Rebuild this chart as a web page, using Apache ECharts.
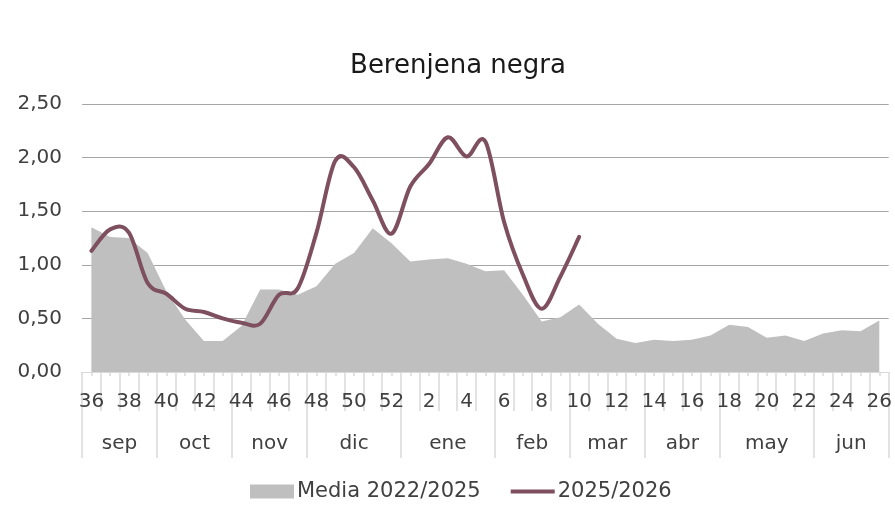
<!DOCTYPE html>
<html>
<head>
<meta charset="utf-8">
<script src="https://cdn.jsdelivr.net/npm/echarts@6/dist/echarts.min.js"></script>
<style>
html,body{margin:0;padding:0;background:#fff;}
#c{width:895px;height:506px;}
</style>
</head>
<body>
<div id="c"></div>
<script>
// Weeks (categories)
const weeks = [36,37,38,39,40,41,42,43,44,45,46,47,48,49,50,51,52,1,2,3,4,5,6,7,8,9,10,11,12,13,14,15,16,17,18,19,20,21,22,23,24,25,26];
// Month names and the week each month starts at
const months = ['sep','oct','nov','dic','ene','feb','mar','abr','may','jun'];
const monthStartWeeks = [36,40,44,48,1,6,10,14,18,23];
// Media 2022/2025 (area)
const media = [1.35,1.26,1.25,1.11,0.75,0.49,0.29,0.29,0.43,0.77,0.77,0.72,0.80,1.01,1.11,1.34,1.20,1.03,1.05,1.06,1.01,0.94,0.95,0.72,0.47,0.51,0.63,0.45,0.31,0.27,0.30,0.29,0.30,0.34,0.44,0.42,0.32,0.34,0.29,0.36,0.39,0.38,0.48];
// 2025/2026 (line)
const season = [1.13,1.33,1.30,0.83,0.73,0.59,0.56,0.50,0.46,0.45,0.72,0.78,1.30,1.97,1.91,1.60,1.29,1.73,1.94,2.19,2.01,2.15,1.40,0.91,0.59,0.89,1.26];
const yTicks = {min:0, max:2.5, step:0.5};

const N = weeks.length;
const monthStartIdx = monthStartWeeks.map(w => weeks.indexOf(w));
const monthEdges = monthStartIdx.concat([N]);
// half-band axis: 2N+1 positions; month label at centre of each month span
const halfCats = new Array(2*N+1).fill('');
months.forEach((m,i)=>{ halfCats[monthEdges[i] + monthEdges[i+1]] = m; });

const lineColor = '#7e4f5e';
const txt = '#404040';
const font = 'DejaVu Sans';

function smoothPath(pts){
  // Catmull-Rom style cubic Bezier through the projected points
  let d = 'M' + pts[0][0] + ',' + pts[0][1];
  for (let i = 0; i < pts.length - 1; i++) {
    const p0 = pts[Math.max(i-1,0)], p1 = pts[i], p2 = pts[i+1], p3 = pts[Math.min(i+2, pts.length-1)];
    const c1x = p1[0] + (p2[0]-p0[0])/6, c1y = p1[1] + (p2[1]-p0[1])/6;
    const c2x = p2[0] - (p3[0]-p1[0])/6, c2y = p2[1] - (p3[1]-p1[1])/6;
    d += ' C' + c1x + ',' + c1y + ' ' + c2x + ',' + c2y + ' ' + p2[0] + ',' + p2[1];
  }
  return d;
}

const chart = echarts.init(document.getElementById('c'), null, {renderer:'canvas'});
chart.setOption({
  animation:false,
  backgroundColor:'#ffffff',
  textStyle:{fontFamily:font},
  title:{text:'Berenjena negra', left:458, textAlign:'center', top:53, padding:0,
    textStyle:{fontFamily:font,fontSize:26,fontWeight:'normal',color:'#1a1a1a'}},
  grid:{left:82,right:5,top:104,bottom:134},
  legend:{top:481,left:250,itemGap:30,itemWidth:44,itemHeight:14,padding:0,
    textStyle:{fontFamily:font,fontSize:21,color:txt,padding:[0,0,0,-2]},
    data:[{name:'Media 2022/2025',icon:'rect',itemStyle:{color:'#bfbfbf'}},
          {name:'2025/2026',icon:'path://M0,0 L46,0 L46,4 L0,4 Z',itemStyle:{color:lineColor}}]},
  xAxis:[
    {type:'category',data:weeks.map(String),boundaryGap:true,position:'bottom',
     axisLine:{show:true,onZero:false,lineStyle:{color:'#d9d9d9',width:1}},
     axisTick:{show:true,interval:0,length:39,lineStyle:{color:'#d9d9d9',width:1.5}},
     axisLabel:{interval:(i)=>i%2===0,margin:20,fontFamily:font,fontSize:20,color:txt},
     splitLine:{show:false}},
    {type:'category',data:weeks.map(String),boundaryGap:true,position:'bottom',
     axisLine:{show:false,onZero:false},
     axisTick:{show:true,interval:(i)=>monthStartIdx.indexOf(i)>=0,length:86,lineStyle:{color:'#d9d9d9',width:1.5}},
     axisLabel:{show:false},splitLine:{show:false}},
    {type:'category',data:halfCats,boundaryGap:false,position:'bottom',
     axisLine:{show:false,onZero:false},
     axisTick:{show:true,interval:(i)=>i%2===1,length:4,lineStyle:{color:'#d9d9d9',width:1.5}},
     axisLabel:{interval:0,margin:62,fontFamily:font,fontSize:20,color:txt},
     splitLine:{show:false}}
  ],
  yAxis:{type:'value',min:yTicks.min,max:yTicks.max,interval:yTicks.step,
    axisLine:{show:false},axisTick:{show:false},
    axisLabel:{margin:20,fontFamily:font,fontSize:20,color:txt,formatter:v=>v.toFixed(2).replace('.',',')},
    splitLine:{lineStyle:{color:'#a6a6a6',width:1.2}}},
  series:[
    {name:'Media 2022/2025',type:'line',data:media,xAxisIndex:0,symbol:'none',
     lineStyle:{width:0},itemStyle:{color:'#bfbfbf'},areaStyle:{color:'#bfbfbf',opacity:1},z:1},
    {name:'2025/2026',type:'custom',coordinateSystem:'cartesian2d',xAxisIndex:0,yAxisIndex:0,
     data:season.map((v,i)=>[i,v]),encode:{x:0,y:1},itemStyle:{color:lineColor},z:3,
     renderItem:function(params, api){
       if (params.dataIndex !== 0) return null;
       const pts = season.map((v,i)=>api.coord([i,v]));
       return {type:'path',shape:{pathData:smoothPath(pts)},
         style:{fill:'none',stroke:lineColor,lineWidth:4,lineJoin:'round',lineCap:'round'}};
     }}
  ]
});
</script>
</body>
</html>
